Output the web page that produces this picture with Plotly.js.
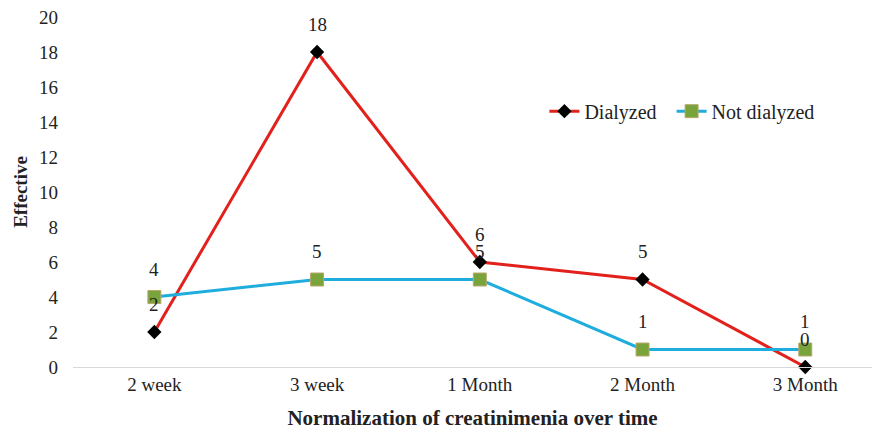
<!DOCTYPE html>
<html><head><meta charset="utf-8">
<script src="https://cdn.plot.ly/plotly-3.0.1.min.js"></script>
<style>html,body{margin:0;padding:0;background:#fff}</style>
</head><body>
<div id="chart" style="width:872px;height:432px"></div>
<script>
const categories = ["2 week", "3 week", "1 Month", "2 Month", "3 Month"];
const dialyzed = [2, 18, 6, 5, 0];
const notDialyzed = [4, 5, 5, 1, 1];
const yTicks = [0, 2, 4, 6, 8, 10, 12, 14, 16, 18, 20];
const seriesNames = ["Dialyzed", "Not dialyzed"];

const serif = "'Times New Roman', 'Liberation Serif', 'DejaVu Serif', serif";

const traces = [
  {x: categories, y: dialyzed, name: seriesNames[0] + "\u00a0\u00a0", type: "scatter", mode: "lines+markers",
   line: {color: "#E2211C", width: 3},
   marker: {symbol: "diamond", size: 11, color: "#000000"}, cliponaxis: false},
  {x: categories, y: notDialyzed, name: seriesNames[1], type: "scatter", mode: "lines+markers",
   line: {color: "#1EADDD", width: 3},
   marker: {symbol: "square", size: 13, color: "#79A43C", line: {color: "#B9A86A", width: 1}}, cliponaxis: false}
];

const annotations = [];
[dialyzed, notDialyzed].forEach(arr => {
  arr.forEach((v, i) => annotations.push({x: categories[i], y: v, text: String(v), showarrow: false,
    yshift: 28, font: {family: serif, size: 19, color: "#222"}}));
});

const layout = {
  width: 872, height: 432,
  font: {family: serif},
  margin: {l: 73, r: 0, t: 17, b: 65},
  paper_bgcolor: "#fff", plot_bgcolor: "#fff",
  showlegend: true,
  legend: {orientation: "h", x: 0.59, y: 0.731, xanchor: "left", yanchor: "middle",
    font: {family: serif, size: 20, color: "#222"}, bgcolor: "rgba(0,0,0,0)", tracegroupgap: 0},
  xaxis: {type: "category", categoryarray: categories, range: [-0.5, 4.41],
    showgrid: false, zeroline: false, showline: true, linecolor: "#d9d9d9", linewidth: 1,
    ticks: "", tickfont: {family: serif, size: 19, color: "#222"},
    title: {text: "<b>Normalization of creatinimenia over time</b>", font: {family: serif, size: 21, color: "#222"}, standoff: 16}},
  yaxis: {range: [0, 20], tickvals: yTicks, showgrid: false, zeroline: false, showline: false,
    ticks: "", tickfont: {family: serif, size: 19, color: "#222"}, ticklabelstandoff: 14,
    title: {text: "<b>Effective</b>", font: {family: serif, size: 19, color: "#222"}, standoff: 6}},
  annotations: annotations
};

Plotly.newPlot("chart", traces, layout, {displayModeBar: false, staticPlot: true});
</script>
</body></html>
